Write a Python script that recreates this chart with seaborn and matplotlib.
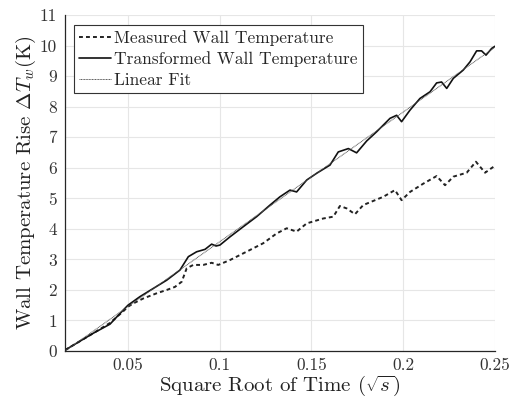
import numpy as np
import pandas as pd
import seaborn as sns
import matplotlib
matplotlib.use("Agg")
import matplotlib.pyplot as plt

# ---- data ----
trans_x = [0.0157, 0.031, 0.0402, 0.0474, 0.050, 0.0565, 0.0638, 0.0711, 0.0783, 0.0829,
           0.0874, 0.092, 0.0956, 0.098, 0.1001, 0.1056, 0.1128, 0.1201, 0.1274, 0.1328,
           0.1383, 0.1419, 0.1474, 0.1528, 0.1601, 0.1646, 0.1701, 0.1746, 0.1801, 0.1855,
           0.1928, 0.1964, 0.1991, 0.2037, 0.2091, 0.2146, 0.2182, 0.2209, 0.2237, 0.2273,
           0.2327, 0.2364, 0.24, 0.2427, 0.2451, 0.2482, 0.25]
trans_y = [0.03, 0.58, 0.88, 1.34, 1.5, 1.78, 2.05, 2.32, 2.65, 3.09,
           3.25, 3.33, 3.50, 3.44, 3.47, 3.74, 4.07, 4.40, 4.78, 5.05,
           5.27, 5.21, 5.60, 5.82, 6.09, 6.52, 6.63, 6.49, 6.88, 7.18,
           7.62, 7.72, 7.51, 7.89, 8.27, 8.49, 8.78, 8.81, 8.60, 8.93,
           9.20, 9.47, 9.83, 9.83, 9.69, 9.91, 9.98]

meas_x = [0.0157, 0.031, 0.0402, 0.0474, 0.050, 0.0529, 0.0583, 0.0656, 0.0711, 0.0756,
          0.0793, 0.082, 0.0856, 0.091, 0.0956, 0.0992, 0.1056, 0.1165, 0.1237, 0.131,
          0.1365, 0.1419, 0.1474, 0.1564, 0.1619, 0.1655, 0.1692, 0.1737, 0.1782, 0.1891,
          0.1955, 0.1991, 0.2037, 0.2109, 0.2182, 0.2228, 0.2273, 0.2346, 0.2396, 0.2446,
          0.2491]
meas_y = [0.03, 0.58, 0.92, 1.30, 1.45, 1.56, 1.72, 1.89, 2.0, 2.10,
          2.27, 2.71, 2.82, 2.82, 2.89, 2.82, 2.98, 3.31, 3.53, 3.85,
          4.02, 3.91, 4.18, 4.34, 4.40, 4.75, 4.67, 4.48, 4.78, 5.05,
          5.27, 4.94, 5.21, 5.48, 5.73, 5.43, 5.71, 5.84, 6.20, 5.84,
          6.03]

fit_x = [0.0157, 0.25]
fit_y = [0.0, 9.95]

x_ticks = [0.05, 0.1, 0.15, 0.2, 0.25]
x_tick_labels = ["0.05", "0.1", "0.15", "0.2", "0.25"]
y_ticks = list(range(0, 12))
y_tick_labels = [str(v) for v in y_ticks]

series_names = ["Measured Wall Temperature", "Transformed Wall Temperature", "Linear Fit"]

# ---- style ----
sns.set_style("white")
plt.rcParams["font.family"] = ["cmr10", "DejaVu Serif"]
plt.rcParams["mathtext.fontset"] = "cm"
plt.rcParams["axes.formatter.use_mathtext"] = True

fig = plt.figure(figsize=(5.14, 3.98), dpi=100)
ax = fig.add_axes([0.1265, 0.118, 0.8365, 0.844])

df_meas = pd.DataFrame({"x": meas_x, "y": meas_y})
df_trans = pd.DataFrame({"x": trans_x, "y": trans_y})
df_fit = pd.DataFrame({"x": fit_x, "y": fit_y})

sns.lineplot(data=df_meas, x="x", y="y", ax=ax, color="#222222", lw=1.4,
             linestyle=(0, (2.0, 1.6)), label=series_names[0], sort=False)
sns.lineplot(data=df_trans, x="x", y="y", ax=ax, color="#111111", lw=1.2,
             label=series_names[1], sort=False)
sns.lineplot(data=df_fit, x="x", y="y", ax=ax, color="#555555", lw=0.7,
             linestyle=(0, (1, 0.6)), label=series_names[2], sort=False)

ax.set_xlim(0.0157, 0.25)
ax.set_ylim(0, 11)
ax.set_xticks(x_ticks)
ax.set_xticklabels(x_tick_labels)
ax.set_yticks(y_ticks)
ax.set_yticklabels(y_tick_labels)

ax.grid(True, color="#e6e6e6", lw=0.8)
ax.set_axisbelow(True)
for s in ["top", "right"]:
    ax.spines[s].set_visible(False)
for s in ["left", "bottom"]:
    ax.spines[s].set_color("#262626")
    ax.spines[s].set_linewidth(0.9)

ax.tick_params(axis="both", direction="in", length=3.5, width=0.8, color="#262626",
               labelsize=12.5, labelcolor="#333333")
ax.tick_params(axis="x", pad=5)
ax.tick_params(axis="y", pad=6)

ax.set_xlabel(r"Square Root of Time ($\sqrt{s}$)", fontsize=15, color="#222222", labelpad=0)
ax.set_ylabel(r"Wall Temperature Rise $\Delta T_w$(K)", fontsize=15, color="#222222", labelpad=1)

leg = ax.legend(loc="upper left", bbox_to_anchor=(0.021, 0.97), fontsize=12.5,
                frameon=True, fancybox=False, edgecolor="#333333", framealpha=1,
                handlelength=1.8, handletextpad=0.2, borderpad=0.3, labelspacing=0.3,
                borderaxespad=0)
leg.get_frame().set_linewidth(0.8)

fig.savefig("out.png", dpi=100)
